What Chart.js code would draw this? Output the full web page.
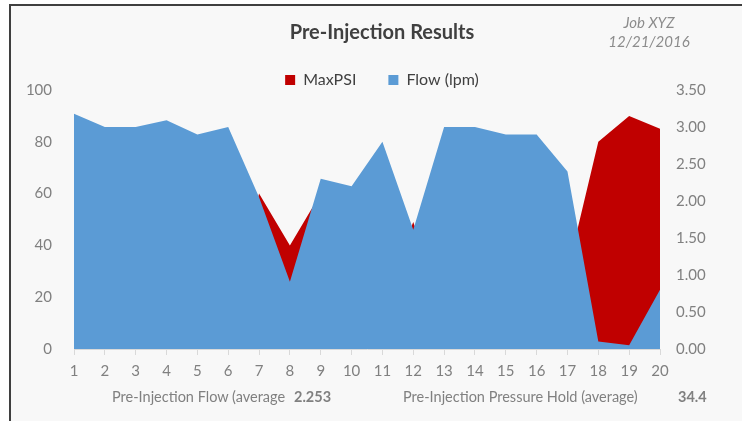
<!DOCTYPE html>
<html>
<head>
<meta charset="utf-8">
<script src="https://cdn.jsdelivr.net/npm/chart.js@4"></script>
<style>
  html, body { margin: 0; padding: 0; background: #ffffff; }
  #wrap { position: relative; width: 742px; height: 421px; overflow: hidden; font-family: Lato, sans-serif; }
  #frame { position: absolute; left: 9px; top: 4px; right: -4px; bottom: -4px; background: #f8f8f8;
           border-top: 2px solid #3f3f3f; border-left: 2px solid #3f3f3f; }
  canvas { position: absolute; left: 0; top: 0; }
  .txt { position: absolute; color: #808080; font-size: 14.5px; line-height: 20px; white-space: nowrap; }
  .num { font-weight: bold; }
  #job { position: absolute; left: 599px; top: 13px; width: 100px; text-align: center; color: #8c8c8c;
         font-style: italic; font-size: 15px; line-height: 19px; }
</style>
</head>
<body>
<div id="wrap">
  <div id="frame"></div>
  <canvas id="resultsChart" width="742" height="421"></canvas>
  <div id="job">Job XYZ<br>12/21/2016</div>
  <span class="txt" style="left:112px; top:387px;">Pre-Injection Flow (average</span>
  <span class="txt num" style="left:294px; top:387px;">2.253</span>
  <span class="txt" style="left:403px; top:387px;">Pre-Injection Pressure Hold (average)</span>
  <span class="txt num" style="left:678px; top:387px;">34.4</span>
</div>
<script>
// données
const categories = ['1', '2', '3', '4', '5', '6', '7', '8', '9', '10',
                    '11', '12', '13', '14', '15', '16', '17', '18', '19', '20'];
const maxPsi = [19, 15, 18, 12, 15, 10, 60, 40, 60, 25, 20, 49, 15, 12, 15, 18, 30, 80, 90, 85];
const flowLpm = [3.18, 3.0, 3.0, 3.09, 2.9, 3.0, 2.05, 0.91, 2.3, 2.2, 2.8, 1.61, 3.0, 3.0, 2.9, 2.9, 2.4, 0.1, 0.05, 0.8];
const psiTicks = [0, 20, 40, 60, 80, 100];
const flowTicks = [0, 0.5, 1.0, 1.5, 2.0, 2.5, 3.0, 3.5];

const tickFont = { family: 'Lato', size: 15 };
const grey = '#808080';

const ctx = document.getElementById('resultsChart').getContext('2d');

new Chart(ctx, {
    type: 'line',
    data: {
        labels: categories,
        datasets: [{
            // dessiné au-dessus
            label: 'Flow (lpm)',
            data: flowLpm,
            yAxisID: 'yFlow',
            backgroundColor: '#5b9bd5',
            borderWidth: 0,
            pointRadius: 0,
            fill: 'origin',
            tension: 0
        }, {
            label: 'MaxPSI',
            data: maxPsi,
            yAxisID: 'yPsi',
            backgroundColor: '#c00000',
            borderWidth: 0,
            pointRadius: 0,
            fill: 'origin',
            tension: 0
        }]
    },
    options: {
        responsive: false,
        animation: false,
        layout: {
            padding: { left: 22, right: 0, top: 0, bottom: 42 }
        },
        plugins: {
            title: {
                display: true,
                text: 'Pre-Injection Results',
                color: '#404040',
                font: { family: 'Lato', size: 20, weight: 'bold', lineHeight: 1 },
                padding: { top: 23, bottom: -3 }
            },
            legend: {
                position: 'top',
                reverse: true,
                maxHeight: 50,
                labels: {
                    boxWidth: 10,
                    boxHeight: 10,
                    padding: 32,
                    color: '#404040',
                    font: { family: 'Lato', size: 16 }
                }
            },
            tooltip: { enabled: false }
        },
        scales: {
            x: {
                offset: false,
                afterFit: s => { s.height = 30; },
                grid: { drawOnChartArea: false, drawTicks: true, tickLength: 6, color: '#d9d9d9' },
                border: { color: '#d9d9d9' },
                ticks: { color: grey, font: tickFont, padding: 7, maxRotation: 0, autoSkip: false }
            },
            yPsi: {
                position: 'left',
                min: 0,
                max: 100,
                afterFit: s => { s.width = 52; },
                afterBuildTicks: s => { s.ticks = psiTicks.map(v => ({ value: v })); },
                grid: { display: false },
                border: { display: false },
                ticks: { color: grey, font: tickFont, padding: 14 }
            },
            yFlow: {
                position: 'right',
                min: 0,
                max: 3.5,
                afterFit: s => { s.width = 82; },
                afterBuildTicks: s => { s.ticks = flowTicks.map(v => ({ value: v })); },
                grid: { display: false },
                border: { display: false },
                ticks: { color: grey, font: tickFont, padding: 8, callback: v => v.toFixed(2) }
            }
        }
    }
});
</script>
</body>
</html>
